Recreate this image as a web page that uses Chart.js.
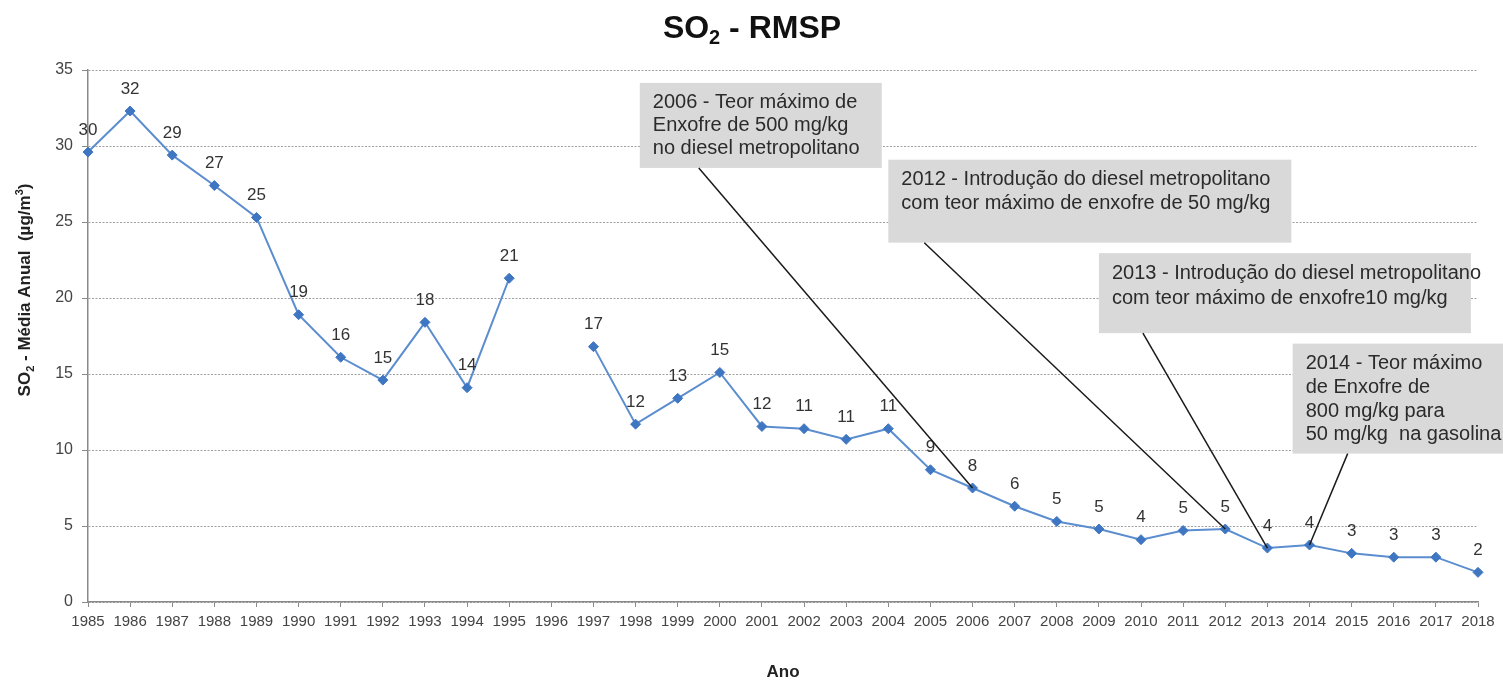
<!DOCTYPE html>
<html>
<head>
<meta charset="utf-8">
<script src="https://cdn.jsdelivr.net/npm/chart.js@4.4.1/dist/chart.umd.min.js"></script>
<style>
  html, body { margin: 0; padding: 0; background: #ffffff; }
  #wrap { width: 1503px; height: 680px; position: relative; }
</style>
</head>
<body>
<div id="wrap"><canvas id="chart" width="1503" height="680"></canvas></div>
<script>
// Annual mean SO2 concentration in the São Paulo metropolitan region (µg/m³)
const years = ['1985', '1986', '1987', '1988', '1989', '1990', '1991', '1992', '1993', '1994',
  '1995', '1996', '1997', '1998', '1999', '2000', '2001', '2002', '2003', '2004',
  '2005', '2006', '2007', '2008', '2009', '2010', '2011', '2012', '2013', '2014',
  '2015', '2016', '2017', '2018'];

const so2Mean = [29.6, 32.3, 29.4, 27.4, 25.3, 18.9, 16.1, 14.6, 18.4, 14.1,
  21.3, null, 16.8, 11.7, 13.4, 15.1, 11.55, 11.4, 10.7, 11.4,
  8.7, 7.5, 6.3, 5.3, 4.8, 4.1, 4.7, 4.8, 3.55, 3.75,
  3.2, 2.95, 2.95, 1.95];

const yTicks = [0, 5, 10, 15, 20, 25, 30, 35];

// Regulatory milestones and the year each one points at
const milestoneYears = ['2006', '2012', '2013', '2014'];
const milestoneTexts = [
  ['2006 - Teor máximo de', 'Enxofre de 500 mg/kg', 'no diesel metropolitano'],
  ['2012 - Introdução do diesel metropolitano', 'com teor máximo de enxofre de 50 mg/kg'],
  ['2013 - Introdução do diesel metropolitano', 'com teor máximo de enxofre10 mg/kg'],
  ['2014 - Teor máximo', 'de Enxofre de', '800 mg/kg para', '50 mg/kg  na gasolina']
];

// Callout box placement: top-left corner in axis units (category index, value), size in px,
// and where the leader line leaves the bottom edge
const calloutLayout = [
  { ix: 13.1, v: 34.15, w: 242, h: 85, lead: 59, lh: 23 },
  { ix: 19.0, v: 29.1, w: 403, h: 83, lead: 36, lh: 24 },
  { ix: 24.0, v: 22.95, w: 372, h: 80, lead: 44, lh: 25 },
  { ix: 28.6, v: 17.0, w: 220, h: 110, lead: 55, lh: 23.7 }
];

const FONT = "'Liberation Sans', Arial, Helvetica, sans-serif";

// Draws a run of text pieces (with sub/superscripts) centred on x
function drawRich(ctx, parts, x, y) {
  let total = 0;
  parts.forEach(p => {
    ctx.font = `${p.bold ? 'bold ' : ''}${p.size}px ${FONT}`;
    p.width = ctx.measureText(p.t).width;
    total += p.width;
  });
  let cx = x - total / 2;
  ctx.textAlign = 'left';
  ctx.textBaseline = 'alphabetic';
  parts.forEach(p => {
    ctx.font = `${p.bold ? 'bold ' : ''}${p.size}px ${FONT}`;
    ctx.fillText(p.t, cx, y + (p.dy || 0));
    cx += p.width;
  });
}

const decorPlugin = {
  id: 'decor',
  afterDatasetsDraw(chart) {
    const ctx = chart.ctx;
    const meta = chart.getDatasetMeta(0);
    ctx.save();
    ctx.font = `17px ${FONT}`;
    ctx.fillStyle = '#333333';
    ctx.textAlign = 'center';
    ctx.textBaseline = 'middle';
    meta.data.forEach((pt, i) => {
      const v = so2Mean[i];
      if (v === null || pt.skip) return;
      ctx.fillText(String(Math.round(v)), pt.x, pt.y - 22);
    });
    ctx.restore();
  },
  afterDraw(chart) {
    const ctx = chart.ctx;
    const xs = chart.scales.x, ys = chart.scales.y;
    const meta = chart.getDatasetMeta(0);

    // Callout boxes with leader lines to the highlighted years
    ctx.save();
    milestoneYears.forEach((yr, k) => {
      const L = calloutLayout[k];
      const bx = xs.getPixelForValue(L.ix);
      const by = ys.getPixelForValue(L.v);
      const idx = years.indexOf(yr);
      const pt = meta.data[idx];
      ctx.fillStyle = '#d9d9d9';
      ctx.fillRect(bx, by, L.w, L.h);
      ctx.fillStyle = '#2b2b2b';
      ctx.font = `20px ${FONT}`;
      ctx.textAlign = 'left';
      ctx.textBaseline = 'middle';
      milestoneTexts[k].forEach((line, j) => {
        ctx.fillText(line, bx + 13, by + 20 + j * L.lh);
      });
      ctx.strokeStyle = '#1a1a1a';
      ctx.lineWidth = 1.5;
      ctx.beginPath();
      ctx.moveTo(bx + L.lead, by + L.h);
      ctx.lineTo(pt.x, pt.y);
      ctx.stroke();
    });
    ctx.restore();

    // Chart title
    ctx.save();
    ctx.fillStyle = '#111111';
    drawRich(ctx, [
      { t: 'SO', size: 32, bold: true },
      { t: '2', size: 20, bold: true, dy: 6 },
      { t: ' - RMSP', size: 32, bold: true }
    ], 752, 38);
    ctx.restore();

    // Value axis title
    ctx.save();
    ctx.fillStyle = '#222222';
    ctx.translate(30, 290);
    ctx.rotate(-Math.PI / 2);
    drawRich(ctx, [
      { t: 'SO', size: 17, bold: true },
      { t: '2', size: 11, bold: true, dy: 4 },
      { t: ' - Média Anual  (µg/m', size: 17, bold: true },
      { t: '3', size: 11, bold: true, dy: -7 },
      { t: ')', size: 17, bold: true }
    ], 0, 0);
    ctx.restore();

    // Category axis title
    ctx.save();
    ctx.fillStyle = '#222222';
    drawRich(ctx, [{ t: 'Ano', size: 17, bold: true }], (chart.chartArea.left + chart.chartArea.right) / 2, 677);
    ctx.restore();
  }
};

new Chart(document.getElementById('chart'), {
  type: 'line',
  data: {
    labels: years,
    datasets: [{
      label: 'SO2',
      data: so2Mean,
      borderColor: '#5b8dcf',
      borderWidth: 2,
      backgroundColor: '#3f76c2',
      pointStyle: 'rectRot',
      pointRadius: 5,
      pointBackgroundColor: '#3f76c2',
      pointBorderColor: '#3f76c2',
      pointBorderWidth: 1,
      tension: 0,
      spanGaps: false,
      fill: false
    }]
  },
  options: {
    responsive: false,
    animation: false,
    devicePixelRatio: 1,
    layout: { padding: { top: 70, right: 25, bottom: 0, left: 0 } },
    plugins: {
      legend: { display: false },
      tooltip: { enabled: false },
      title: { display: false }
    },
    scales: {
      x: {
        type: 'category',
        offset: false,
        grid: { display: true, drawOnChartArea: false, drawTicks: true, tickLength: 5, tickColor: '#8a8a8a' },
        border: { display: true, color: '#8a8a8a', width: 1.5 },
        ticks: { font: { size: 15, family: FONT }, color: '#444444', padding: 6, maxRotation: 0, autoSkip: false },
        afterFit(scale) { scale.height = 78; }
      },
      y: {
        min: 0,
        max: 35,
        afterBuildTicks(scale) { scale.ticks = yTicks.map(v => ({ value: v })); },
        grid: { color: '#a0a0a0', lineWidth: 1, drawTicks: true, tickLength: 6, tickColor: '#8a8a8a' },
        border: { display: true, color: '#8a8a8a', width: 1.5, dash: [2, 1.5] },
        ticks: { font: { size: 16, family: FONT }, color: '#444444', padding: 9 },
        afterFit(scale) { scale.width = 88; }
      }
    }
  },
  plugins: [decorPlugin]
});
</script>
</body>
</html>
